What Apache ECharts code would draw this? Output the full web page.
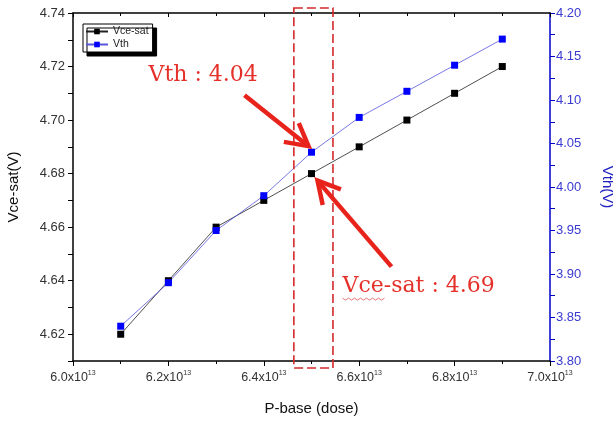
<!DOCTYPE html>
<html><head><meta charset="utf-8">
<script src="https://cdn.jsdelivr.net/npm/echarts@6/dist/echarts.min.js"></script>
<style>html,body{margin:0;padding:0;background:#fff}#c{width:613px;height:422px}</style>
</head><body><div id="c"></div>
<script>
const doses = [6.1e13, 6.2e13, 6.3e13, 6.4e13, 6.5e13, 6.6e13, 6.7e13, 6.8e13, 6.9e13];
const vceSat = [4.62, 4.64, 4.66, 4.67, 4.68, 4.69, 4.70, 4.71, 4.72];
const vth = [3.84, 3.89, 3.95, 3.99, 4.04, 4.08, 4.11, 4.14, 4.17];
const highlightDose = 6.5e13;
const vthNote = 'Vth : 4.04';
const vceNote = 'Vce-sat : 4.69';

const chart = echarts.init(document.getElementById('c'));
const sansFont = '"Liberation Sans", Arial, sans-serif';
const option = {
  animation: false,
  backgroundColor: '#fff',
  grid: { left: 73, right: 63, top: 13, bottom: 61, outerBoundsMode: 'none', containLabel: false },
  legend: {
    left: 83, top: 24, orient: 'vertical',
    itemWidth: 22, itemHeight: 7, itemGap: 2,
    padding: [2, 4, 2, 2],
    backgroundColor: '#fff', borderColor: '#000', borderWidth: 1,
    shadowColor: '#000', shadowBlur: 0, shadowOffsetX: 4, shadowOffsetY: 4,
    textStyle: { fontFamily: sansFont, fontSize: 10.5, lineHeight: 11, color: '#222' },
    data: ['Vce-sat', 'Vth']
  },
  xAxis: [{
    type: 'value', min: 6.0e13, max: 7.0e13, interval: 0.2e13,
    name: 'P-base (dose)', nameLocation: 'middle', nameGap: 40,
    nameTextStyle: { fontFamily: sansFont, fontSize: 15, color: '#111' },
    axisLine: { lineStyle: { color: '#000', width: 1.5 } },
    axisTick: { inside: false, length: 5, lineStyle: { color: '#000' } },
    minorTick: { show: true, splitNumber: 2, length: 3, lineStyle: { color: '#000' } },
    splitLine: { show: false },
    axisLabel: {
      fontFamily: sansFont, fontSize: 12.5, color: '#333', margin: 9,
      formatter: v => (v / 1e13).toFixed(1) + 'x10{s|13}',
      rich: { s: { fontSize: 7, verticalAlign: 'top', padding: [0, 0, 8, 0], color: '#333', fontFamily: sansFont } }
    }
  }, {
    type: 'value', position: 'top', min: 6.0e13, max: 7.0e13, interval: 0.2e13,
    axisLine: { lineStyle: { color: '#000', width: 1.5 } },
    axisTick: { inside: true, length: 4, lineStyle: { color: '#000' } },
    minorTick: { show: true, splitNumber: 2, length: 3, lineStyle: { color: '#000' } },
    axisLabel: { show: false }, splitLine: { show: false }
  }],
  yAxis: [{
    type: 'value', min: 4.61, max: 4.74, interval: 0.01,
    name: 'Vce-sat(V)', nameLocation: 'middle', nameGap: 52,
    nameTextStyle: { fontFamily: sansFont, fontSize: 15, color: '#111' },
    axisLine: { show: true, lineStyle: { color: '#000', width: 1.5 } },
    axisTick: { show: true, length: 5, lineStyle: { color: '#000' } },
    splitLine: { show: false },
    axisLabel: {
      fontFamily: sansFont, fontSize: 13, color: '#333', margin: 8,
      formatter: v => (Math.round(v * 100) % 2 === 0 ? v.toFixed(2) : '')
    }
  }, {
    type: 'value', min: 3.80, max: 4.20, interval: 0.05, position: 'right',
    name: 'Vth(V)', nameLocation: 'middle', nameGap: 50, nameRotate: -90,
    nameTextStyle: { fontFamily: sansFont, fontSize: 15, color: '#2020c0' },
    axisLine: { show: true, lineStyle: { color: '#0000c8', width: 1.5 } },
    axisTick: { show: true, length: 5, lineStyle: { color: '#0000c8' } },
    minorTick: { show: true, splitNumber: 2, length: 5, lineStyle: { color: '#0000c8' } },
    splitLine: { show: false },
    axisLabel: { fontFamily: sansFont, fontSize: 13, color: '#3a3ad0', margin: 6, formatter: v => v.toFixed(2) }
  }],
  series: [{
    name: 'Vce-sat', type: 'line', xAxisIndex: 0, yAxisIndex: 0,
    data: doses.map((d, i) => [d, vceSat[i]]),
    symbol: 'rect', symbolSize: 7,
    itemStyle: { color: '#000' }, lineStyle: { color: '#222', width: 0.8 }
  }, {
    name: 'Vth', type: 'line', xAxisIndex: 0, yAxisIndex: 1,
    data: doses.map((d, i) => [d, vth[i]]),
    symbol: 'rect', symbolSize: 7,
    itemStyle: { color: '#0000ff' }, lineStyle: { color: '#5555dd', width: 0.8 }
  }]
};
chart.setOption(option);

// annotations anchored to data points
const red = '#e8231c';
const pVth = chart.convertToPixel({ xAxisIndex: 0, yAxisIndex: 1 }, [highlightDose, vth[4]]);
const pVce = chart.convertToPixel({ xAxisIndex: 0, yAxisIndex: 0 }, [highlightDose, vceSat[4]]);
const rx0 = chart.convertToPixel({ xAxisIndex: 0 }, highlightDose - 0.037e13);
const rx1 = chart.convertToPixel({ xAxisIndex: 0 }, highlightDose + 0.045e13);

function arrow(tail, tip, headLen, ang) {
  const a = Math.atan2(tail[1] - tip[1], tail[0] - tip[0]);
  const w1 = [tip[0] + headLen * Math.cos(a + ang), tip[1] + headLen * Math.sin(a + ang)];
  const w2 = [tip[0] + headLen * Math.cos(a - ang), tip[1] + headLen * Math.sin(a - ang)];
  return [
    { type: 'polyline', shape: { points: [tail, tip] }, style: { stroke: red, lineWidth: 4.5, fill: null }, z: 100 },
    { type: 'polyline', shape: { points: [w1, tip, w2] }, style: { stroke: red, lineWidth: 4.5, fill: null, lineJoin: 'miter' }, z: 100 }
  ];
}
const tip1 = [pVth[0] - 3, pVth[1] - 6];
const tail1 = [tip1[0] - 64, tip1[1] - 51];
const tip2 = [pVce[0] + 6, pVce[1] + 7];
const tail2 = [tip2[0] + 74, tip2[1] + 86];

const wave = [];
for (let i = 0; i <= 14; i++) wave.push([pVce[0] + 31 + i * 3, pVce[1] + 125 + (i % 2 ? 1.5 : -0.5)]);

const noteFont = '22px "DejaVu Serif", "Liberation Serif", serif';
chart.setOption({
  graphic: [
    { type: 'rect', shape: { x: rx0, y: 8, width: rx1 - rx0, height: 360 },
      style: { fill: null, stroke: '#d4282a', lineWidth: 1.6, lineDash: [9, 4] }, z: 90 },
    ...arrow(tail1, tip1, 25, 0.5),
    ...arrow(tail2, tip2, 25, 0.5),
    { type: 'text', x: pVth[0] - 163, y: pVth[1] - 77,
      style: { text: vthNote, fill: '#e5302a', font: noteFont, textVerticalAlign: 'middle' }, z: 100 },
    { type: 'text', x: pVce[0] + 31, y: pVce[1] + 113,
      style: { text: vceNote, fill: '#e5302a', font: noteFont, textVerticalAlign: 'middle' }, z: 100 },
    { type: 'polyline', shape: { points: wave }, style: { stroke: '#e05050', lineWidth: 0.8, fill: null }, z: 100 }
  ]
});
</script></body></html>
